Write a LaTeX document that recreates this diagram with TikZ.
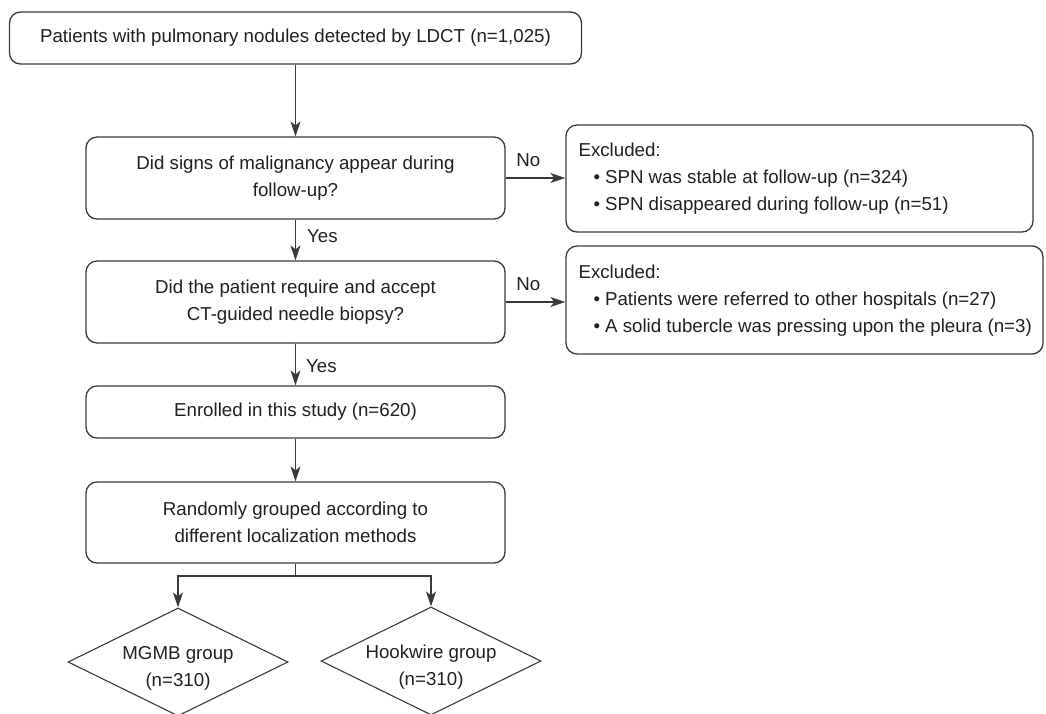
\documentclass[tikz,border=0pt]{standalone}
\usepackage{fontspec}
\setmainfont{Liberation Sans}
\usetikzlibrary{shapes.geometric,arrows.meta}
\definecolor{txt}{HTML}{231F20}
\definecolor{ln}{HTML}{3A3A3A}
\begin{document}
\begin{tikzpicture}[x=1pt,y=-1pt,
  font=\fontsize{18.7}{27}\selectfont, text=txt,
  box/.style={draw=ln, line width=1.3pt, rounded corners=11pt, align=center, inner sep=0pt},
  exbox/.style={draw=ln, line width=1.3pt, rounded corners=11pt, inner sep=0pt},
  extext/.style={align=left, inner sep=0pt, anchor=west},
  dia/.style={diamond, draw=ln, line width=1.1pt, minimum width=220pt, minimum height=108pt, inner sep=0pt},
  conn/.style={draw=ln, line width=1.3pt},
  arr/.style={conn, -{Stealth[length=15pt,width=10pt,inset=4pt]}},
  lab/.style={inner sep=1pt}]
\useasboundingbox (0,0) rectangle (1046,713);

\node[box, minimum width=572pt, minimum height=52pt] (top) at (295.5,38) {Patients with pulmonary nodules detected by LDCT (n=1,025)};
\node[box, minimum width=419pt, minimum height=82pt] (q1) at (295.5,178) {Did signs of malignancy appear during\\follow-up?};
\node[box, minimum width=419pt, minimum height=82pt] (q2) at (295.5,302) {Did the patient require and accept\\CT-guided needle biopsy?};
\node[box, minimum width=419pt, minimum height=52pt] (enr) at (295.5,412) {Enrolled in this study (n=620)};
\node[box, minimum width=419pt, minimum height=81pt] (rnd) at (295.5,522.5) {Randomly grouped according to\\different localization methods};

\node[exbox, minimum width=467pt, minimum height=107pt] (x1) at (799.5,178.5) {};
\node[extext] (x1t) at ([xshift=13pt]x1.west)
  {Excluded:\\\hspace*{15pt}•\hspace{5pt}SPN was stable at follow-up (n=324)\\\hspace*{15pt}•\hspace{5pt}SPN disappeared during follow-up (n=51)};
\node[exbox, minimum width=477pt, minimum height=108pt] (x2) at (804.5,300) {};
\node[extext] (x2t) at ([xshift=13pt,yshift=-1pt]x2.west)
  {Excluded:\\\hspace*{15pt}•\hspace{5pt}Patients were referred to other hospitals (n=27)\\\hspace*{15pt}•\hspace{5pt}A solid tubercle was pressing upon the pleura (n=3)};

\node[dia] (d1) at (178,662) {};
\node[dia] (d2) at (431,661) {};
\node[align=center, inner sep=0pt] (t1) at ([yshift=-6pt]d1.center) {MGMB group\\(n=310)};
\node[align=center, inner sep=0pt] (t2) at ([yshift=-6pt]d2.center) {Hookwire group\\(n=310)};

\coordinate (split) at (295.5,576);

\draw[arr] (top) -- (q1);
\draw[arr] (q1) -- (q2) node[lab, pos=0.4, right=10pt] {Yes};
\draw[arr] (q2) -- (enr) node[lab, pos=0.53, right=9pt] {Yes};
\draw[arr] (enr) -- (rnd);
\draw[arr] (q1.east) -- (q1.east -| x1.west) node[lab, pos=0.38, above=10pt] {No};
\draw[arr] (q2.east) -- (q2.east -| x2.west) node[lab, pos=0.38, above=10pt] {No};
\draw[conn] (rnd.south) -- (split);
\draw[arr] (split) -| (d1.north);
\draw[arr] (split) -| (d2.north);
\end{tikzpicture}
\end{document}
